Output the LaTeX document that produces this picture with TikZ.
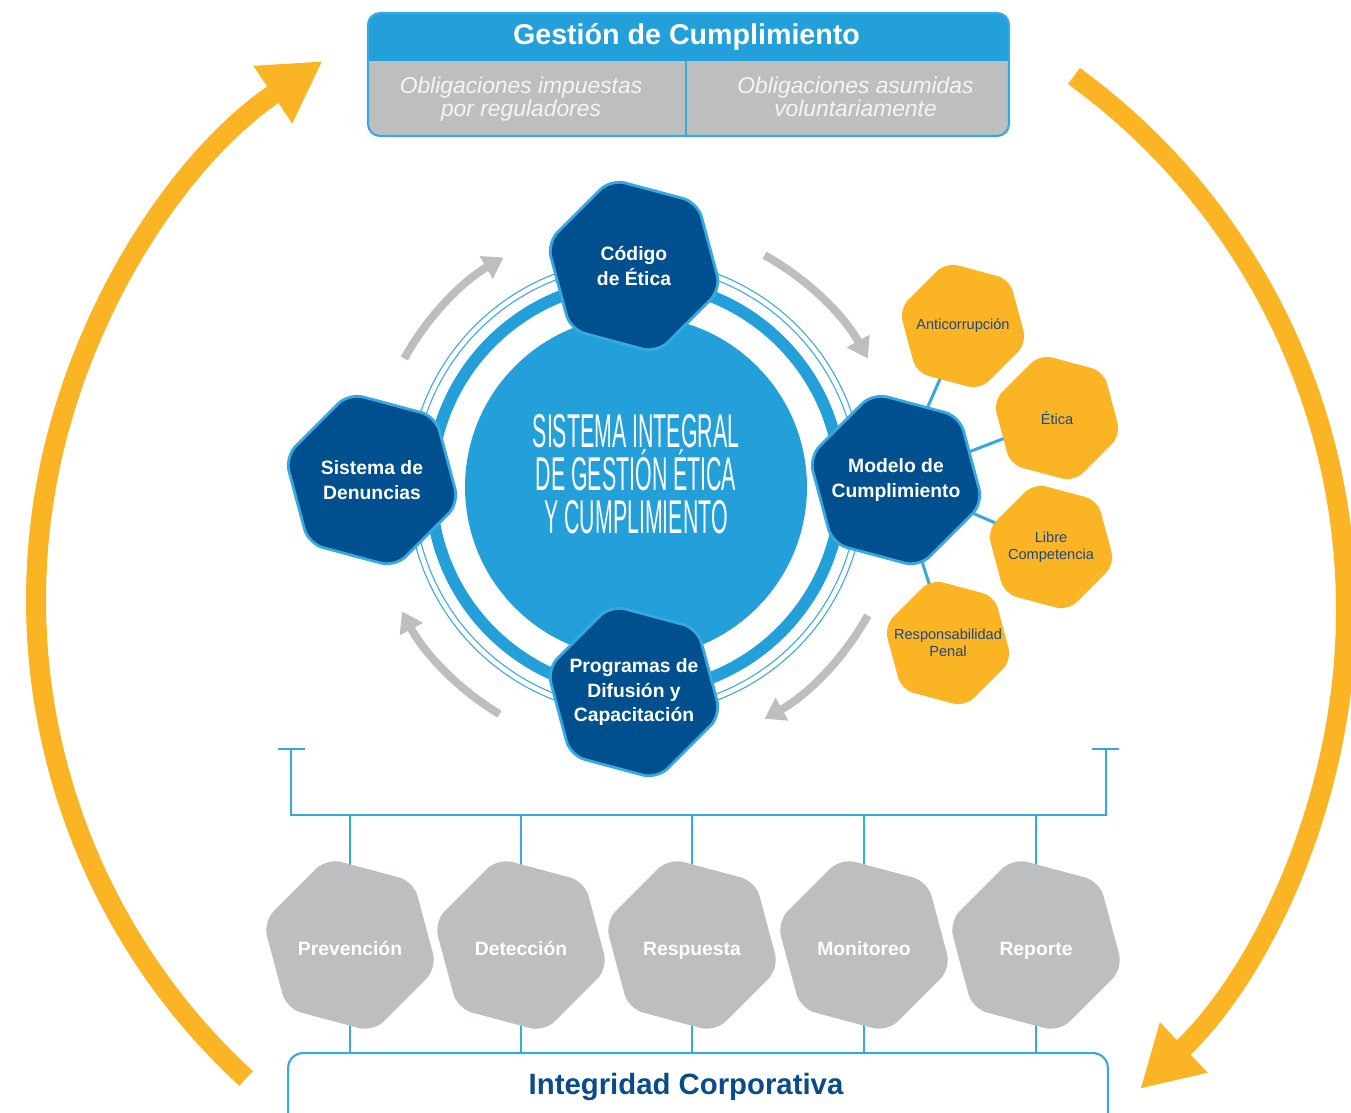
\documentclass[tikz,border=0pt]{standalone}
\usepackage{fontspec}
\setmainfont{Liberation Sans}
\newfontfamily\strettofont[FakeStretch=0.45]{Liberation Sans}
\usetikzlibrary{shapes.geometric,arrows.meta,backgrounds}

\definecolor{blunotte}{RGB}{0,80,143}
\definecolor{azzurro}{RGB}{35,159,217}
\definecolor{bordo}{RGB}{54,169,225}
\definecolor{giallo}{RGB}{251,180,36}
\definecolor{grigio}{RGB}{189,190,192}
\definecolor{chiaro}{RGB}{245,245,245}
\definecolor{testoblu}{RGB}{30,72,120}
\definecolor{titoloblu}{RGB}{10,75,140}

\newcommand{\fontnucleo}{\strettofont\fontsize{27}{24.5}\selectfont\lineskiplimit=-50pt\relax}

\tikzset{
  esagono/.style={regular polygon, regular polygon sides=6, shape border rotate=-15,
    rounded corners=0.3cm, inner sep=-0.6cm, align=center},
  pilastro/.style={esagono, minimum size=3.6cm, fill=blunotte, draw=bordo, line width=1.6pt,
    text=white, font=\bfseries\fontsize{11}{14}\selectfont},
  tema/.style={esagono, minimum size=2.64cm, rounded corners=0.25cm, fill=giallo,
    text=testoblu, font=\fontsize{8.3}{9.7}\selectfont},
  fase/.style={esagono, minimum size=3.6cm, fill=grigio, text=white,
    text height=1.14em, text depth=0pt, font=\bfseries\fontsize{11}{14}\selectfont},
  ciclo/.style={grigio, line width=0.16cm, -{Triangle[length=0.4cm,width=0.5cm]}},
  giro/.style={giallo, line width=0.4cm, -{Triangle[length=1.2cm,width=1.3cm]}},
  filo/.style={bordo, line width=1.1pt},
  legame/.style={bordo, line width=1.7pt}
}

\begin{document}
\begin{tikzpicture}[x=0.02cm, y=0.02cm]
    \useasboundingbox (0,0) rectangle (1351,-1112);

    % Frecce gialle
    \coordinate (ciclo-sx) at (686,-600);
    \coordinate (ciclo-dx) at (686,-610);
    \draw[giro] (ciclo-sx) ++(227.4:650) arc[start angle=227.4, end angle=124, radius=650];
    \draw[giro] (ciclo-dx) ++(54:660) arc[start angle=54, end angle=-46.5, radius=660];

    % Anelli e cerchio centrale
    \coordinate (centro) at (636,-487);
    \draw[azzurro, line width=0.24cm] (centro) circle (205);
    \draw[bordo, line width=0.6pt] (centro) circle (222);
    \draw[bordo, line width=0.6pt] (centro) circle (228);
    \node[circle, fill=azzurro, minimum size=6.84cm, inner sep=0pt] (nucleo) at (centro) {};
    \node[text=white, align=center, font=\fontnucleo] (nucleo-testo) at (636,-474)
          {SISTEMA INTEGRAL\\DE GESTIÓN ÉTICA\\Y CUMPLIMIENTO};

    % Frecce del ciclo
    \draw[ciclo] (centro) ++(151:265) arc[start angle=151, end angle=120, radius=265];
    \draw[ciclo] (centro) ++(61:265) arc[start angle=61, end angle=29, radius=265];
    \draw[ciclo] (centro) ++(-29:265) arc[start angle=-29, end angle=-61, radius=265];
    \draw[ciclo] (centro) ++(-121:265) arc[start angle=-121, end angle=-152, radius=265];

    % Pilastri
    \node[pilastro] (codigo) at (634,-266) {Código\\de Ética};
    \node[pilastro] (denuncias) at (372,-480) {Sistema de\\Denuncias};
    \node[pilastro] (modelo) at (896,-480) {Modelo de\\Cumplimiento};
    \node[pilastro] (programas) at (634,-692) {Programas de\\Difusión y\\Capacitación};

    % Temi del modello
    \node[tema] (anticorrupcion) at (963,-326) {Anticorrupción};
    \node[tema] (etica) at (1057,-418) {Ética};
    \node[tema] (competencia) at (1051,-547) {Libre\\Competencia};
    \node[tema] (penal) at (948,-643) {Responsabilidad\\Penal};

    % Fasi
    \node[fase] (prevencion) at (350,-945) {Prevención};
    \node[fase] (deteccion) at (521,-945) {Detección};
    \node[fase] (respuesta) at (692,-945) {Respuesta};
    \node[fase] (monitoreo) at (864,-945) {Monitoreo};
    \node[fase] (reporte) at (1036,-945) {Reporte};

    % Riquadro superiore
    \coordinate (box-nw) at (368,-13);
    \coordinate (box-se) at (1009,-136);
    \fill[grigio, rounded corners=0.24cm] (box-nw) rectangle (box-se);
    \begin{scope}
      \clip[rounded corners=0.24cm] (box-nw) rectangle (box-se);
      \fill[azzurro] (box-nw) rectangle (1009,-61);
    \end{scope}
    \draw[bordo, line width=1.2pt, rounded corners=0.24cm] (box-nw) rectangle (box-se);
    \coordinate (divisore) at (686,-61);
    \draw[bordo, line width=1.2pt] (divisore) -- (divisore |- box-se);
    \node[text=white, font=\bfseries\fontsize{16.3}{18}\selectfont] (gestion) at (686.5,-37) {Gestión de Cumplimiento};
    \node[text=chiaro, align=center, font=\itshape\fontsize{13}{13.1}\selectfont] (impuestas) at (521,-99)
          {Obligaciones impuestas\\por reguladores};
    \node[text=chiaro, align=center, font=\itshape\fontsize{13}{13.1}\selectfont] (asumidas) at (855.5,-96.5)
          {Obligaciones asumidas\\voluntariamente};

    % Integridad Corporativa
    \node[draw=bordo, line width=1.2pt, fill=white, rounded corners=0.3cm, inner sep=0pt,
          minimum width=16.4cm, minimum height=1.76cm, anchor=north] (integridad) at (698,-1052) {};
    \node[text=titoloblu, font=\bfseries\fontsize{16.7}{18}\selectfont] (integridad-testo) at (686,-1087)
          {Integridad Corporativa};

    % Linee di collegamento
    \coordinate (staffa-sx) at (291,-815);
    \coordinate (staffa-dx) at (1106,-815);
    \begin{pgfonlayer}{background}
      \draw[legame] (modelo.center) -- (anticorrupcion.center);
      \draw[legame] (modelo.center) -- (etica.center);
      \draw[legame] (modelo.center) -- (competencia.center);
      \draw[legame] (modelo.center) -- (penal.center);

      \draw[filo] (278,-749) -- (305,-749);
      \draw[filo] (1092,-749) -- (1119,-749);
      \draw[filo] (291,-749) -- (staffa-sx) -- (staffa-dx) -- (1106,-749);
      \draw[filo] (prevencion |- staffa-sx) -- (prevencion |- integridad.north);
      \draw[filo] (deteccion |- staffa-sx) -- (deteccion |- integridad.north);
      \draw[filo] (respuesta |- staffa-sx) -- (respuesta |- integridad.north);
      \draw[filo] (monitoreo |- staffa-sx) -- (monitoreo |- integridad.north);
      \draw[filo] (reporte |- staffa-sx) -- (reporte |- integridad.north);
    \end{pgfonlayer}
\end{tikzpicture}
\end{document}
